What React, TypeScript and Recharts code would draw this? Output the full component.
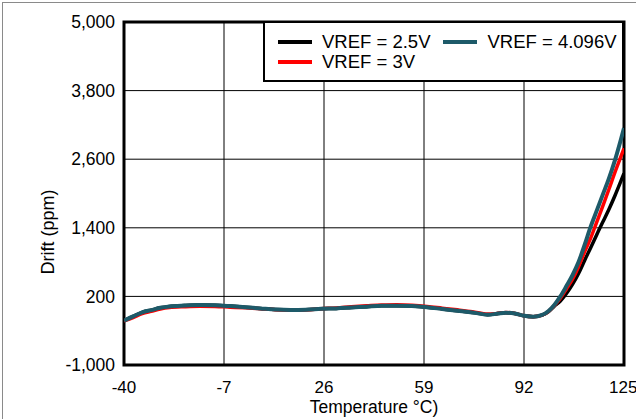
import React from 'react';
import { LineChart, Line, XAxis, YAxis, CartesianGrid, Legend, ReferenceArea } from 'recharts';

const temps = [-40, -37, -34, -31, -28, -25, -20, -15, -10, -5, 0, 5, 10, 15, 20, 25, 30, 35, 40, 45, 50, 55, 60, 65, 70, 75, 80, 83, 86, 89, 92, 95, 98, 100, 102, 104, 106, 108, 110, 112, 114, 116, 118, 120, 122, 124, 125];

const vref4096 = [-225, -150, -80, -40, 0, 25, 40, 48, 45, 30, 10, -10, -30, -38, -35, -18, -10, 5, 20, 35, 38, 30, 10, -20, -50, -80, -120, -105, -85, -100, -140, -155, -125, -60, 50, 200, 380, 570, 800, 1100, 1420, 1700, 1980, 2260, 2580, 2950, 3146];
const vref3 = [-230, -170, -100, -60, -20, 5, 20, 28, 25, 12, 0, -15, -32, -38, -35, -16, -2, 18, 35, 50, 52, 45, 25, -5, -35, -68, -110, -100, -82, -98, -140, -155, -128, -65, 40, 170, 330, 500, 720, 980, 1220, 1500, 1780, 2070, 2370, 2650, 2790];
const vref25 = [-225, -150, -80, -40, 0, 25, 40, 48, 45, 30, 10, -10, -30, -38, -35, -18, -10, 5, 20, 35, 38, 30, 10, -20, -50, -80, -120, -105, -85, -100, -140, -155, -128, -70, 30, 120, 250, 410, 600, 830, 1050, 1280, 1500, 1720, 1960, 2220, 2353];

const xTicks = [-40, -7, 26, 59, 92, 125];
const yTicks = [-1000, 200, 1400, 2600, 3800, 5000];

const seriesNames = ['VREF = 2.5V', 'VREF = 4.096V', 'VREF = 3V'];
const seriesColors = ['#000000', '#1d5a69', '#ff0000'];

const data = temps.map((t, i) => ({ t, a: vref25[i], b: vref3[i], c: vref4096[i] }));

const FONT = '"Liberation Sans", Arial, sans-serif';

const fmt = (v: number) => v.toLocaleString('en-US');

const LegendBox = () => {
  const items = [
    { name: seriesNames[0], color: seriesColors[0] },
    { name: seriesNames[1], color: seriesColors[1] },
    { name: seriesNames[2], color: seriesColors[2] },
  ];
  return (
    <div
      style={{
        boxSizing: 'border-box',
        width: 361,
        height: 61,
        border: '2px solid #000',
        background: '#fff',
        padding: '9px 0 0 13px',
        display: 'flex',
        flexWrap: 'wrap',
        columnGap: 13,
        alignContent: 'flex-start',
        fontFamily: FONT,
        fontSize: 18.5,
        color: '#000',
      }}
    >
      {items.map((it) => (
        <div key={it.name} style={{ display: 'flex', alignItems: 'center', height: 20, lineHeight: '20px' }}>
          <div style={{ width: 34, height: 4, background: it.color, marginRight: 10 }} />
          <span style={{ whiteSpace: 'nowrap' }}>{it.name}</span>
        </div>
      ))}
    </div>
  );
};

export default function App() {
  return (
    <div style={{ position: 'absolute', left: 0, top: 0, width: 636, height: 419, overflow: 'hidden', background: '#fff' }}>
      <div
        style={{
          position: 'absolute',
          left: 2,
          top: 2,
          width: 700,
          height: 500,
          border: '1px solid #8a8a8a',
          boxSizing: 'border-box',
        }}
      />
      <div style={{ position: 'absolute', left: 0, top: 0 }}>
        <LineChart width={636} height={419} data={data} margin={{ top: 22, right: 12, bottom: 24, left: 34 }}>
          <CartesianGrid stroke="#000" strokeWidth={1} />
          <XAxis
            dataKey="t"
            type="number"
            domain={[-40, 125]}
            ticks={xTicks}
            allowDataOverflow
            height={30}
            tickSize={0}
            tickMargin={16}
            axisLine={false}
            tick={{ fill: '#000', fontSize: 17, fontFamily: FONT }}
            label={{
              content: (props: any) => {
                const vb = props.viewBox;
                return (
                  <text x={vb.x + vb.width / 2} y={vb.y + 48} textAnchor="middle" fill="#000" fontSize={17.5} fontFamily={FONT}>
                    Temperature °C)
                  </text>
                );
              },
            }}
          />
          <YAxis
            type="number"
            domain={[-1000, 5000]}
            ticks={yTicks}
            allowDataOverflow
            width={90}
            tickSize={0}
            tickMargin={9}
            axisLine={false}
            tickFormatter={fmt}
            tick={{ fill: '#000', fontSize: 17.5, fontFamily: FONT }}
            label={{
              content: (props: any) => {
                const vb = props.viewBox;
                const cx = vb.x + 14;
                const cy = vb.y + 210;
                return (
                  <text x={cx} y={cy} textAnchor="middle" dominantBaseline="central" transform={`rotate(-90 ${cx} ${cy})`} fill="#000" fontSize={18} fontFamily={FONT}>
                    Drift (ppm)
                  </text>
                );
              },
            }}
          />
          <ReferenceArea x1={-40} x2={125} y1={-1000} y2={5000} fill="none" stroke="#000" strokeWidth={3} ifOverflow="visible" />
          <Line type="monotone" dataKey="a" name={seriesNames[0]} stroke={seriesColors[0]} strokeWidth={3.5} dot={false} isAnimationActive={false} />
          <Line type="monotone" dataKey="b" name={seriesNames[2]} stroke={seriesColors[2]} strokeWidth={3.5} dot={false} isAnimationActive={false} />
          <Line type="monotone" dataKey="c" name={seriesNames[1]} stroke={seriesColors[1]} strokeWidth={4} dot={false} isAnimationActive={false} />
          <Legend
            layout="horizontal"
            verticalAlign="middle"
            align="center"
            content={() => <LegendBox />}
            wrapperStyle={{ position: 'absolute', left: 263, top: 21, width: 361, height: 61 }}
          />
        </LineChart>
      </div>
    </div>
  );
}
